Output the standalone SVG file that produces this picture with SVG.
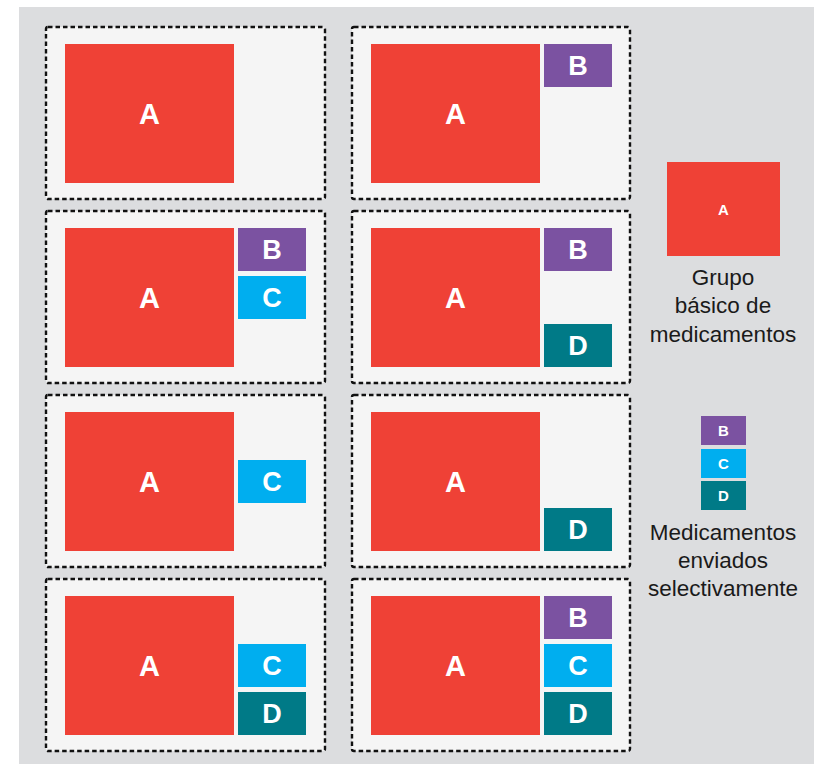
<svg xmlns="http://www.w3.org/2000/svg" width="814" height="764" viewBox="0 0 814 764">
<style>
.bg{fill:#dcdddf}
.panel{fill:#f5f5f5;stroke:#111111;stroke-width:2.4;stroke-dasharray:4.5 3}
.a{fill:#ef4136}
.b{fill:#7b52a1}
.c{fill:#00aeef}
.d{fill:#007a87}
.lbl{font-family:"Liberation Sans",Arial,sans-serif;font-weight:bold;fill:#ffffff;text-anchor:middle}
.big{font-size:29px}
.sm{font-size:27px}
.leg{font-size:15px}
.cap{font-family:"Liberation Sans",Arial,sans-serif;font-size:22.5px;fill:#1a1a1a;text-anchor:middle}
</style>
<rect class="bg" x="19" y="7" width="795" height="757"/>

<g id="panel-1">
<rect class="panel" x="46" y="27" width="279" height="172" rx="2"/>
<rect class="a" x="65" y="44" width="169" height="139"/>
<text class="lbl big" x="149.5" y="124">A</text>
</g>

<g id="panel-2">
<rect class="panel" x="352" y="27" width="278" height="172" rx="2"/>
<rect class="a" x="371" y="44" width="169" height="139"/>
<text class="lbl big" x="455.5" y="124">A</text>
<rect class="b" x="544" y="44" width="68" height="43"/>
<text class="lbl sm" x="578" y="75">B</text>
</g>

<g id="panel-3">
<rect class="panel" x="46" y="211" width="279" height="172" rx="2"/>
<rect class="a" x="65" y="228" width="169" height="139"/>
<text class="lbl big" x="149.5" y="308">A</text>
<rect class="b" x="238" y="228" width="68" height="43"/>
<text class="lbl sm" x="272" y="259">B</text>
<rect class="c" x="238" y="276" width="68" height="43"/>
<text class="lbl sm" x="272" y="307">C</text>
</g>

<g id="panel-4">
<rect class="panel" x="352" y="211" width="278" height="172" rx="2"/>
<rect class="a" x="371" y="228" width="169" height="139"/>
<text class="lbl big" x="455.5" y="308">A</text>
<rect class="b" x="544" y="228" width="68" height="43"/>
<text class="lbl sm" x="578" y="259">B</text>
<rect class="d" x="544" y="324" width="68" height="43"/>
<text class="lbl sm" x="578" y="355">D</text>
</g>

<g id="panel-5">
<rect class="panel" x="46" y="395" width="279" height="172" rx="2"/>
<rect class="a" x="65" y="412" width="169" height="139"/>
<text class="lbl big" x="149.5" y="492">A</text>
<rect class="c" x="238" y="460" width="68" height="43"/>
<text class="lbl sm" x="272" y="491">C</text>
</g>

<g id="panel-6">
<rect class="panel" x="352" y="395" width="278" height="172" rx="2"/>
<rect class="a" x="371" y="412" width="169" height="139"/>
<text class="lbl big" x="455.5" y="492">A</text>
<rect class="d" x="544" y="508" width="68" height="43"/>
<text class="lbl sm" x="578" y="539">D</text>
</g>

<g id="panel-7">
<rect class="panel" x="46" y="579" width="279" height="172" rx="2"/>
<rect class="a" x="65" y="596" width="169" height="139"/>
<text class="lbl big" x="149.5" y="676">A</text>
<rect class="c" x="238" y="644" width="68" height="43"/>
<text class="lbl sm" x="272" y="675">C</text>
<rect class="d" x="238" y="692" width="68" height="43"/>
<text class="lbl sm" x="272" y="723">D</text>
</g>

<g id="panel-8">
<rect class="panel" x="352" y="579" width="278" height="172" rx="2"/>
<rect class="a" x="371" y="596" width="169" height="139"/>
<text class="lbl big" x="455.5" y="676">A</text>
<rect class="b" x="544" y="596" width="68" height="43"/>
<text class="lbl sm" x="578" y="627">B</text>
<rect class="c" x="544" y="644" width="68" height="43"/>
<text class="lbl sm" x="578" y="675">C</text>
<rect class="d" x="544" y="692" width="68" height="43"/>
<text class="lbl sm" x="578" y="723">D</text>
</g>

<g id="legend-basic">
<rect class="a" x="667" y="162" width="113" height="94"/>
<text class="lbl leg" x="723.5" y="214.5">A</text>
<text class="cap" x="723" y="285">Grupo</text>
<text class="cap" x="723" y="313">básico de</text>
<text class="cap" x="723" y="342">medicamentos</text>
</g>

<g id="legend-selective">
<rect class="b" x="701" y="416" width="45" height="29"/>
<text class="lbl leg" x="723.5" y="436">B</text>
<rect class="c" x="701" y="449" width="45" height="29"/>
<text class="lbl leg" x="723.5" y="469">C</text>
<rect class="d" x="701" y="481" width="45" height="29"/>
<text class="lbl leg" x="723.5" y="501">D</text>
<text class="cap" x="723" y="540">Medicamentos</text>
<text class="cap" x="723" y="568">enviados</text>
<text class="cap" x="723" y="596">selectivamente</text>
</g>

<g id="connectors"/>
</svg>
